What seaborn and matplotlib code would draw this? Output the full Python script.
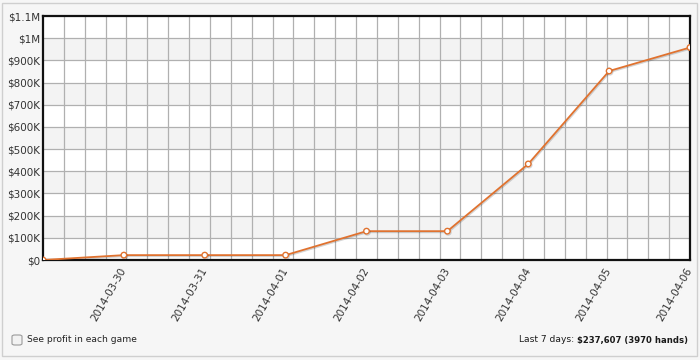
import numpy as np
import pandas as pd
import matplotlib
matplotlib.use("Agg")
import matplotlib.pyplot as plt
import matplotlib.dates as mdates
import matplotlib.patches as mpatches
import matplotlib.patheffects as pe
import seaborn as sns

# ---- data ----
days = ["2014-03-29", "2014-03-30", "2014-03-31", "2014-04-01", "2014-04-02",
        "2014-04-03", "2014-04-04", "2014-04-05", "2014-04-06"]
profit = [0, 22000, 22000, 22000, 130000, 130000, 433000, 852000, 958000]
tick_days = days[1:]
y_ticks = [0, 100000, 200000, 300000, 400000, 500000, 600000, 700000,
           800000, 900000, 1000000, 1100000]
y_labels = ["$0", "$100K", "$200K", "$300K", "$400K", "$500K", "$600K",
            "$700K", "$800K", "$900K", "$1M", "$1.1M"]
left_note = "See profit in each game"
right_note_a = "Last 7 days: "
right_note_b = "$237,607 (3970 hands)"

df = pd.DataFrame({"day": pd.to_datetime(days), "profit": profit})

sns.set_theme(style="white")
plt.rcParams["font.family"] = ["DejaVu Sans"]

fig = plt.figure(figsize=(7, 3.6), dpi=100, facecolor="#f6f6f6")
ax = fig.add_axes([43 / 700, 1 - 260 / 360, 647 / 700, 244 / 360])
ax.set_facecolor("white")

# alternating bands
for k in range(1, 11, 2):
    ax.axhspan(k * 100000, (k + 1) * 100000, color="#f3f3f3", lw=0, zorder=0)

x0 = mdates.date2num(df["day"].iloc[0])
x1 = mdates.date2num(df["day"].iloc[-1])

# grid
for yv in y_ticks[1:-1]:
    ax.axhline(yv, color="#b0b0b0", lw=0.9, zorder=1)
for xv in np.linspace(x0, x1, 32)[1:-1]:
    ax.axvline(xv, color="#b0b0b0", lw=0.9, zorder=1)

sns.lineplot(data=df, x="day", y="profit", ax=ax, color="#e0722f", lw=1.3,
             marker="o", markersize=4, markerfacecolor="white",
             markeredgecolor="#e0722f", markeredgewidth=1.0, zorder=3,
             path_effects=[pe.SimpleLineShadow(offset=(0.6, -0.8), alpha=0.18),
                           pe.Normal()])

ax.set_xlim(x0, x1)
ax.set_ylim(0, 1100000)
ax.set_yticks(y_ticks)
ax.set_yticklabels(y_labels)
ax.set_xticks(mdates.date2num(pd.to_datetime(tick_days)))
ax.set_xticklabels(tick_days, rotation=60, ha="right", va="center",
                   rotation_mode="anchor")
ax.tick_params(axis="both", length=0, labelsize=7.5, labelcolor="#333333")
ax.tick_params(axis="y", pad=2)
ax.tick_params(axis="x", pad=6)
ax.set_xlabel("")
ax.set_ylabel("")
for s in ax.spines.values():
    s.set_visible(True)
    s.set_color("#111111")
    s.set_linewidth(1.6)

# outer frame
fig.patches.append(mpatches.Rectangle((2 / 700, 4 / 360), 695 / 700, 353 / 360,
                                      transform=fig.transFigure, fill=False,
                                      edgecolor="#cfcfcf", lw=1.0))
# checkbox
fig.patches.append(mpatches.FancyBboxPatch((12 / 700, 1 - 345 / 360), 10 / 700, 10 / 360,
                                           boxstyle="round,pad=0,rounding_size=0.004",
                                           transform=fig.transFigure,
                                           facecolor="#f2f2f2", edgecolor="#9a9a9a", lw=0.8))
fig.text(27 / 700, 1 - 340 / 360, left_note, fontsize=6.6, color="#222222",
         va="center", ha="left")
tb = fig.text(688 / 700, 1 - 340 / 360, right_note_b, fontsize=6.1, color="#1a1a1a",
              fontweight="bold", va="center", ha="right")
fig.canvas.draw()
bb = tb.get_window_extent()
fig.text(bb.x0 / fig.bbox.width, 1 - 340 / 360, right_note_a, fontsize=6.6,
         color="#1a1a1a", va="center", ha="right")

fig.savefig("out.png", dpi=100, facecolor=fig.get_facecolor())
